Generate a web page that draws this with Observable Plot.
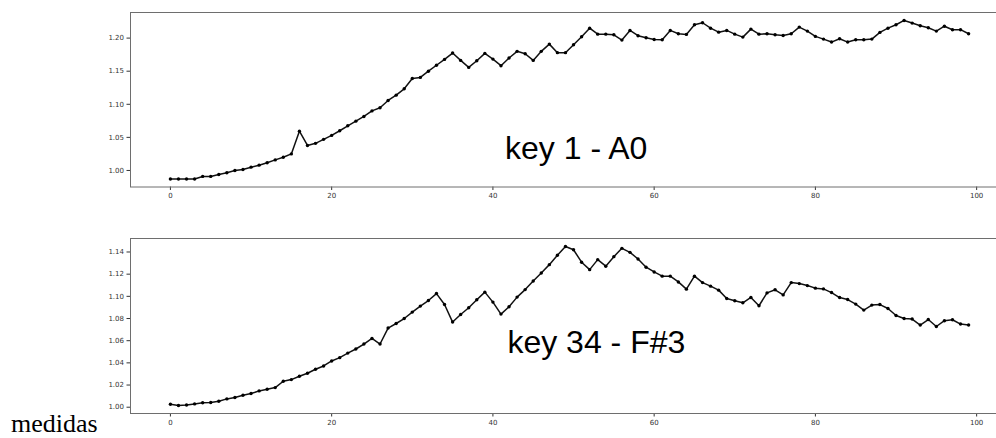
<!DOCTYPE html>
<html><head><meta charset="utf-8">
<script src="https://cdn.jsdelivr.net/npm/d3@7"></script>
<script src="https://cdn.jsdelivr.net/npm/@observablehq/plot@0.6"></script>
<style>
html,body{margin:0;padding:0;background:#fff;overflow:hidden;}
#wrap{position:relative;width:996px;height:438px;overflow:hidden;}
#p1,#p2{position:absolute;left:0;width:1010px;}
#p1 svg,#p2 svg{max-width:none !important;}
#p1{top:0;}
#p2{top:226px;}
#cap{position:absolute;left:11px;top:411px;font-family:"Liberation Serif","Times New Roman",serif;font-size:26px;color:#000;line-height:1;}
</style></head>
<body>
<div id="wrap"><div id="p1"></div><div id="p2"></div><div id="cap">medidas</div></div>
<script>
const caption = "medidas";
const labelKey1 = "key 1 - A0";
const labelKey34 = "key 34 - F#3";
const key1 = [0.987,0.987,0.987,0.987,0.991,0.991,0.994,0.9965,1.000,1.0015,
1.005,1.008,1.0116,1.016,1.020,1.025,1.0594,1.0378,1.041,1.047,
1.053,1.060,1.0675,1.0745,1.0816,1.090,1.0947,1.1058,1.1138,1.1234,
1.139,1.1406,1.150,1.159,1.1678,1.1774,1.1663,1.1557,1.1658,1.1769,
1.1683,1.1583,1.170,1.180,1.1764,1.1663,1.180,1.1909,1.178,1.178,
1.190,1.2020,1.2150,1.206,1.206,1.205,1.197,1.2116,1.2036,1.2006,
1.198,1.1975,1.2116,1.2066,1.2056,1.2202,1.2232,1.215,1.209,1.2116,
1.206,1.2015,1.2136,1.206,1.2066,1.205,1.204,1.2066,1.2166,1.2106,
1.2026,1.1985,1.194,1.199,1.194,1.1975,1.1975,1.1985,1.2086,1.215,
1.2202,1.2267,1.2227,1.2187,1.2157,1.2106,1.218,1.2127,1.2127,1.2066];
const key34 = [1.0027,1.0015,1.002,1.003,1.004,1.0042,1.0054,1.0075,1.0087,1.0108,
1.0123,1.0147,1.0162,1.0177,1.0234,1.0249,1.0279,1.0306,1.0342,1.0372,
1.0417,1.0447,1.0488,1.0525,1.057,1.062,1.057,1.0714,1.0755,1.080,
1.0858,1.0912,1.0962,1.1025,1.0926,1.0768,1.0836,1.0897,1.0969,1.1038,
1.0948,1.084,1.0906,1.0993,1.1061,1.1139,1.1211,1.1286,1.137,1.1450,
1.142,1.1308,1.1241,1.1331,1.1272,1.1358,1.1433,1.1397,1.1337,1.1263,
1.122,1.1182,1.1182,1.113,1.1065,1.1182,1.1124,1.1092,1.1056,1.098,
1.096,1.0942,1.099,1.0915,1.1031,1.1059,1.1013,1.1124,1.1115,1.1097,
1.1074,1.1067,1.1034,1.0989,1.0971,1.093,1.0876,1.0921,1.0926,1.089,
1.0827,1.080,1.0795,1.0741,1.0791,1.0728,1.078,1.0789,1.075,1.0741];
const xTicks = [0,20,40,60,80,100];
const yTicks1 = [1.00,1.05,1.10,1.15,1.20];
const yTicks2 = [1.00,1.02,1.04,1.06,1.08,1.10,1.12,1.14];
const labelPos1 = {x: 41.5, y: 1.0166};
const labelPos2 = {x: 41.8, y: 1.0492};

function pad(ext){const d=(ext[1]-ext[0])*0.05;return [ext[0]-d, ext[1]+d];}

function panel(values, yTicks, label, pos, height, mt, mb){
  const data = values.map((v,i)=>({i, v}));
  const xd = pad(d3.extent(data, d=>d.i));
  const yd = pad(d3.extent(data, d=>d.v));
  return Plot.plot({
    width: 1010, height,
    marginLeft: 130, marginRight: 2, marginTop: mt, marginBottom: mb,
    style: {fontFamily: "DejaVu Sans", fontSize: "7px", color: "#333", background: "#fff", overflow: "visible", maxWidth: "none"},
    x: {domain: xd, ticks: xTicks, tickSize: 3.5, tickPadding: 3, label: null, tickFormat: d=>String(d)},
    y: {domain: yd, ticks: yTicks, tickSize: 3.5, tickPadding: 3, label: null, tickFormat: d3.format(".2f")},
    marks: [
      Plot.frame({stroke: "#6e6e6e", strokeWidth: 1}),
      Plot.line(data, {x: "i", y: "v", stroke: "#111", strokeWidth: 1.5}),
      Plot.dot(data, {x: "i", y: "v", r: 1.7, fill: "#000", stroke: "none"}),
      Plot.text([label], {x: ()=>pos.x, y: ()=>pos.y, text: d=>d, textAnchor: "start", lineAnchor: "bottom",
        fontSize: 32, fontFamily: "Liberation Sans, Arial, sans-serif", fill: "#000"})
    ]
  });
}
document.getElementById("p1").appendChild(panel(key1, yTicks1, labelKey1, labelPos1, 210, 12, 23.5));
document.getElementById("p2").appendChild(panel(key34, yTicks2, labelKey34, labelPos2, 212, 12, 25));
document.getElementById("cap").textContent = caption;
</script>
</body></html>
